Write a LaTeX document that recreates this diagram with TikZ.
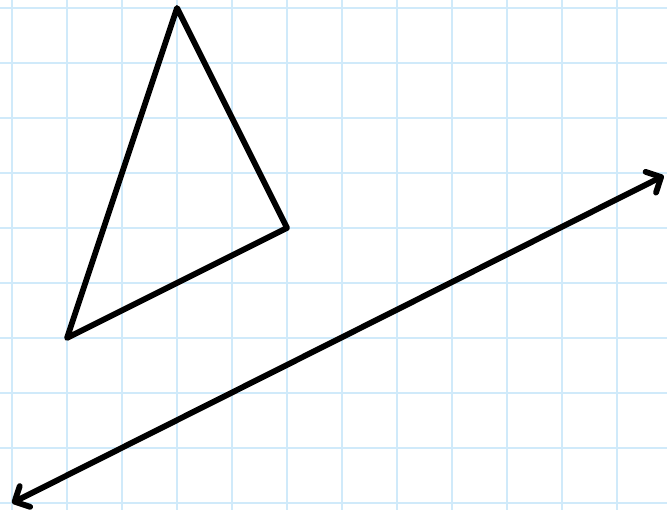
\documentclass[tikz,border=0pt]{standalone}
\usepackage{tikz}
\usetikzlibrary{arrows.meta, calc}
\definecolor{gridblue}{RGB}{208,234,250}

\begin{document}
\begin{tikzpicture}[
    x=1cm, y=1cm,
    paper/.style={gridblue, line width=0.8pt},
    triangleline/.style={black, line width=3pt, line join=round, line cap=round},
    axisline/.style={black, line width=3pt, line cap=round, {Straight Barb[round, length=6pt, width=12pt]}-{Straight Barb[round, length=6pt, width=12pt]}}
]
    % Frame
    \useasboundingbox (-0.218,-0.127) rectangle (11.909,9.145);

    % Grid
    \clip (-0.218,-0.127) rectangle (11.909,9.145);
    \draw[paper] (-1,-1) grid (13,10);

    % Triangle
    \coordinate (top) at (3,9);
    \coordinate (right) at (5,5);
    \coordinate (left) at (1,3);
    \draw[triangleline] (top) -- (right) -- (left) -- cycle;

    % Line
    \coordinate (start) at (0,0);
    \coordinate (end) at (11.85,5.95);
    \draw[axisline] (start) -- (end);
\end{tikzpicture}
\end{document}
